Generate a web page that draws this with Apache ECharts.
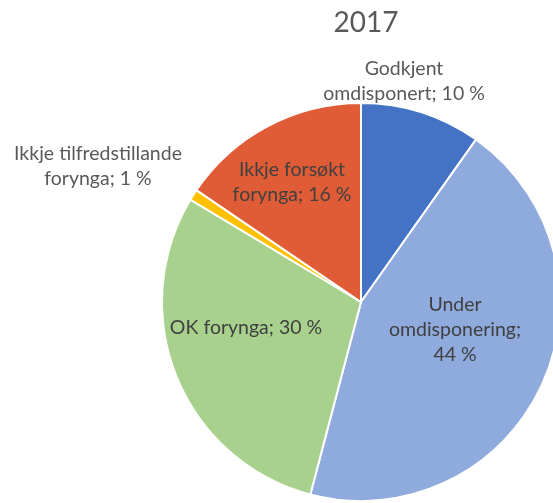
<!DOCTYPE html>
<html>
<head>
<meta charset="utf-8">
<script src="https://cdn.jsdelivr.net/npm/echarts@6/dist/echarts.min.js"></script>
<style>
  html, body { margin: 0; padding: 0; background: #fff; }
  #main { width: 553px; height: 503px; }
</style>
</head>
<body>
<div id="main"></div>
<script>
// data, clockwise from 12 o'clock
const names = ['Godkjent\nomdisponert', 'Under\nomdisponering', 'OK forynga', 'Ikkje tilfredstillande\nforynga', 'Ikkje forsøkt\nforynga'];
const values = [9.8, 44.3, 29.5, 0.9, 15.5];
const colors = ['#4472C4', '#8FAADC', '#A9D18E', '#FFC000', '#E05C36'];

// where each label sits (centre of the text block)
const labelSpots = [[404, 81], [455, 330], [246, 328], [98, 166], [292, 182]];

let myChart = echarts.init(document.getElementById('main'));

let options = {
    title: {
        text: '2017',
        left: 361,
        top: 4,
        textAlign: 'center',
        textStyle: { fontFamily: 'Lato', fontSize: 28, fontWeight: 'normal', color: '#595959' }
    },
    series: [{
        type: 'pie',
        center: [361, 302],
        radius: 199,
        startAngle: 90,
        clockwise: true,
        animation: false,
        itemStyle: { borderColor: '#fff', borderWidth: 2 },
        labelLine: { show: false },
        label: {
            show: true,
            position: 'inside',
            fontFamily: 'Lato',
            fontSize: 19.5,
            lineHeight: 25,
            color: '#404040',
            align: 'center',
            formatter: p => p.name + ';' + (p.dataIndex === 1 ? '\n' : ' ') + Math.round(p.value) + ' %'
        },
        labelLayout: p => ({
            x: labelSpots[p.dataIndex][0],
            y: labelSpots[p.dataIndex][1],
            align: 'center',
            verticalAlign: 'middle'
        }),
        data: names.map((n, i) => ({
            name: n,
            value: values[i],
            itemStyle: { color: colors[i] },
            label: (i === 0 || i === 3) ? { color: '#595959' } : {}
        }))
    }]
};
myChart.setOption(options, true);
</script>
</body>
</html>
